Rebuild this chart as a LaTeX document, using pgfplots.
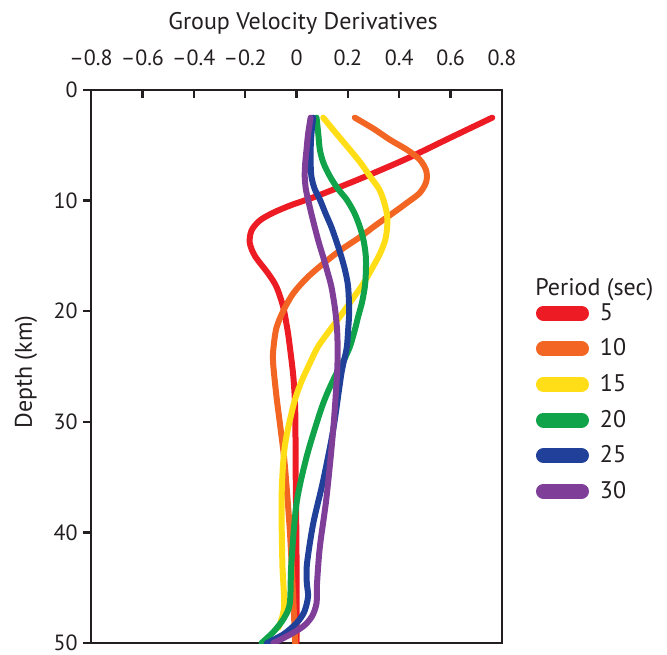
\documentclass[border=0pt]{standalone}
\usepackage{pgfplots}
\pgfplotsset{compat=1.18}
\usepackage{fontspec}
\setmainfont{PT Sans}
\definecolor{cred}{RGB}{237,28,36}
\definecolor{corange}{RGB}{242,101,34}
\definecolor{cyellow}{RGB}{255,222,23}
\definecolor{cgreen}{RGB}{16,163,74}
\definecolor{cblue}{RGB}{33,64,154}
\definecolor{cpurple}{RGB}{127,63,152}
\definecolor{axcol}{RGB}{35,31,32}
\begin{document}
\begin{tikzpicture}[font=\fontsize{11pt}{13pt}\selectfont]
\begin{axis}[
  name=ax,
  scale only axis, width=205.5pt, height=276.5pt,
  clip mode=individual,
  xmin=-0.8, xmax=0.8, ymin=0, ymax=50, y dir=reverse,
  xtick={-0.8,-0.6,-0.4,-0.2,0,0.2,0.4,0.6,0.8},
  xticklabels={--0.8,--0.6,--0.4,--0.2,0,0.2,0.4,0.6,0.8},
  ytick={0,10,20,30,40,50},
  yticklabels={0,10,20,30,40,50},
  xtick pos=right, xticklabel pos=right,
  ytick pos=left, yticklabel pos=left,
  tick align=inside, major tick length=4pt,
  ytick style={xshift=-4pt},
  tick style={line width=1.2pt, axcol},
  axis line style={line width=1.3pt, axcol},
  xticklabel style={anchor=base, yshift=12.5pt, inner sep=0pt, text=axcol},
  yticklabel style={anchor=east, xshift=-6.5pt, inner sep=0pt, text=axcol},
  xlabel={Group Velocity Derivatives},
  xlabel style={at={(axis description cs:0.516,1)}, anchor=base, yshift=30.25pt, inner sep=0pt, text=axcol, font=\fontsize{12pt}{14pt}\selectfont},
  ylabel={Depth (km)},
  ylabel style={at={(axis description cs:-0.158,0.49)}, anchor=center, inner sep=0pt, text=axcol, font=\fontsize{12pt}{14pt}\selectfont},
  legend style={at={(axis description cs:1.0827,0.6286)}, anchor=north west, draw=none, fill=none,
    inner sep=0pt, outer sep=0pt, row sep=0pt, column sep=0pt,
    font=\fontsize{12pt}{14pt}\selectfont, nodes={inner sep=0pt, text=axcol}},
  legend cell align=left,
  legend image code/.code={\path[draw=none, fill=none] (0pt,-8.9pt) rectangle (32pt,8.9pt); \draw[#1, line width=7.5pt, line cap=round] (3.75pt,0pt) -- (22.75pt,0pt);},
]
\addplot[cred, line width=3pt, smooth, line cap=round] coordinates {
(0.762,2.5)(0.60,4.3)(0.43,6.2)(0.25,8.0)(0.078,9.6)(-0.02,10.4)(-0.091,11.1)(-0.143,11.8)(-0.175,12.7)(-0.182,13.8)(-0.162,15.0)(-0.11,16.6)(-0.078,17.8)(-0.052,19.6)(-0.035,21.7)(-0.026,23.2)(-0.012,26)(-0.005,29)(-0.003,35)(0,42)(0,50)};
\addlegendentry{5}
\addplot[corange, line width=3pt, smooth, line cap=round] coordinates {
(0.227,2.5)(0.30,3.5)(0.364,4.5)(0.43,5.4)(0.48,6.3)(0.505,7.3)(0.505,8.3)(0.48,9.3)(0.43,10.2)(0.377,11.1)(0.31,12.2)(0.247,13.3)(0.17,14.5)(0.104,15.7)(0.04,17.0)(-0.013,18.4)(-0.05,19.9)(-0.078,21.5)(-0.09,23.4)(-0.091,24.7)(-0.078,27.7)(-0.06,31)(-0.046,33.8)(-0.026,39.8)(-0.013,45.8)(-0.005,50)};
\addlegendentry{10}
\addplot[cyellow, line width=3pt, smooth, line cap=round] coordinates {
(0.104,2.5)(0.15,3.8)(0.208,5.4)(0.25,6.6)(0.286,7.8)(0.32,8.9)(0.338,9.9)(0.352,11.2)(0.353,12.4)(0.345,13.6)(0.325,14.8)(0.295,16.1)(0.26,17.5)(0.215,19)(0.169,20.5)(0.13,21.7)(0.084,23.2)(0.052,24.7)(0.015,26.6)(-0.013,28.6)(-0.046,32.3)(-0.058,36.8)(-0.055,42.8)(-0.048,46.7)(-0.07,48.6)};
\addlegendentry{15}
\addplot[cgreen, line width=3pt, smooth, line cap=round] coordinates {
(0.078,2.5)(0.085,4)(0.091,5.4)(0.105,6.6)(0.13,7.8)(0.16,8.9)(0.195,9.9)(0.225,11.1)(0.247,12.4)(0.262,13.7)(0.27,15.1)(0.27,16.5)(0.266,17.8)(0.255,19.2)(0.24,20.5)(0.227,21.7)(0.208,23.2)(0.185,24.4)(0.156,25.6)(0.12,27.4)(0.091,29.2)(0.039,33.2)(0,37.4)(-0.02,42.8)(-0.026,46.4)(-0.05,47.8)(-0.09,49)(-0.136,50)};
\addlegendentry{20}
\addplot[cblue, line width=3pt, smooth, line cap=round] coordinates {
(0.065,2.5)(0.058,4)(0.055,5.4)(0.055,6.6)(0.058,7.8)(0.07,8.9)(0.091,9.9)(0.112,11.1)(0.136,12.4)(0.157,13.8)(0.175,15.1)(0.19,16.4)(0.201,17.8)(0.205,20)(0.201,21.7)(0.195,23.4)(0.175,25.6)(0.143,30.7)(0.104,35.3)(0.065,39.2)(0.041,42.8)(0.04,44.5)(0.045,45.8)(0.03,47.2)(0,48.2)(-0.05,49.2)(-0.115,50)};
\addlegendentry{25}
\addplot[cpurple, line width=3pt, smooth, line cap=round] coordinates {
(0.055,2.5)(0.045,4)(0.039,5.4)(0.034,6.6)(0.032,7.8)(0.036,8.9)(0.045,9.9)(0.057,11.1)(0.071,12.4)(0.087,13.8)(0.104,15.1)(0.12,16.4)(0.136,17.8)(0.15,19.8)(0.158,21.7)(0.16,23.4)(0.158,25.6)(0.143,30.7)(0.117,36.8)(0.091,41.3)(0.08,44.6)(0.078,46.4)(0.06,47.6)(0.026,48.5)(-0.03,49.3)(-0.09,50)};
\addlegendentry{30}
\node[anchor=base west, inner sep=0pt, text=axcol, font=\fontsize{12pt}{14pt}\selectfont] at (axis description cs:1.0803,0.6293) {Period (sec)};
\end{axis}
\path ([shift={(-45.5pt,-5.5pt)}]ax.south west) rectangle ([shift={(288pt,321.5pt)}]ax.south west);
\end{tikzpicture}
\end{document}
